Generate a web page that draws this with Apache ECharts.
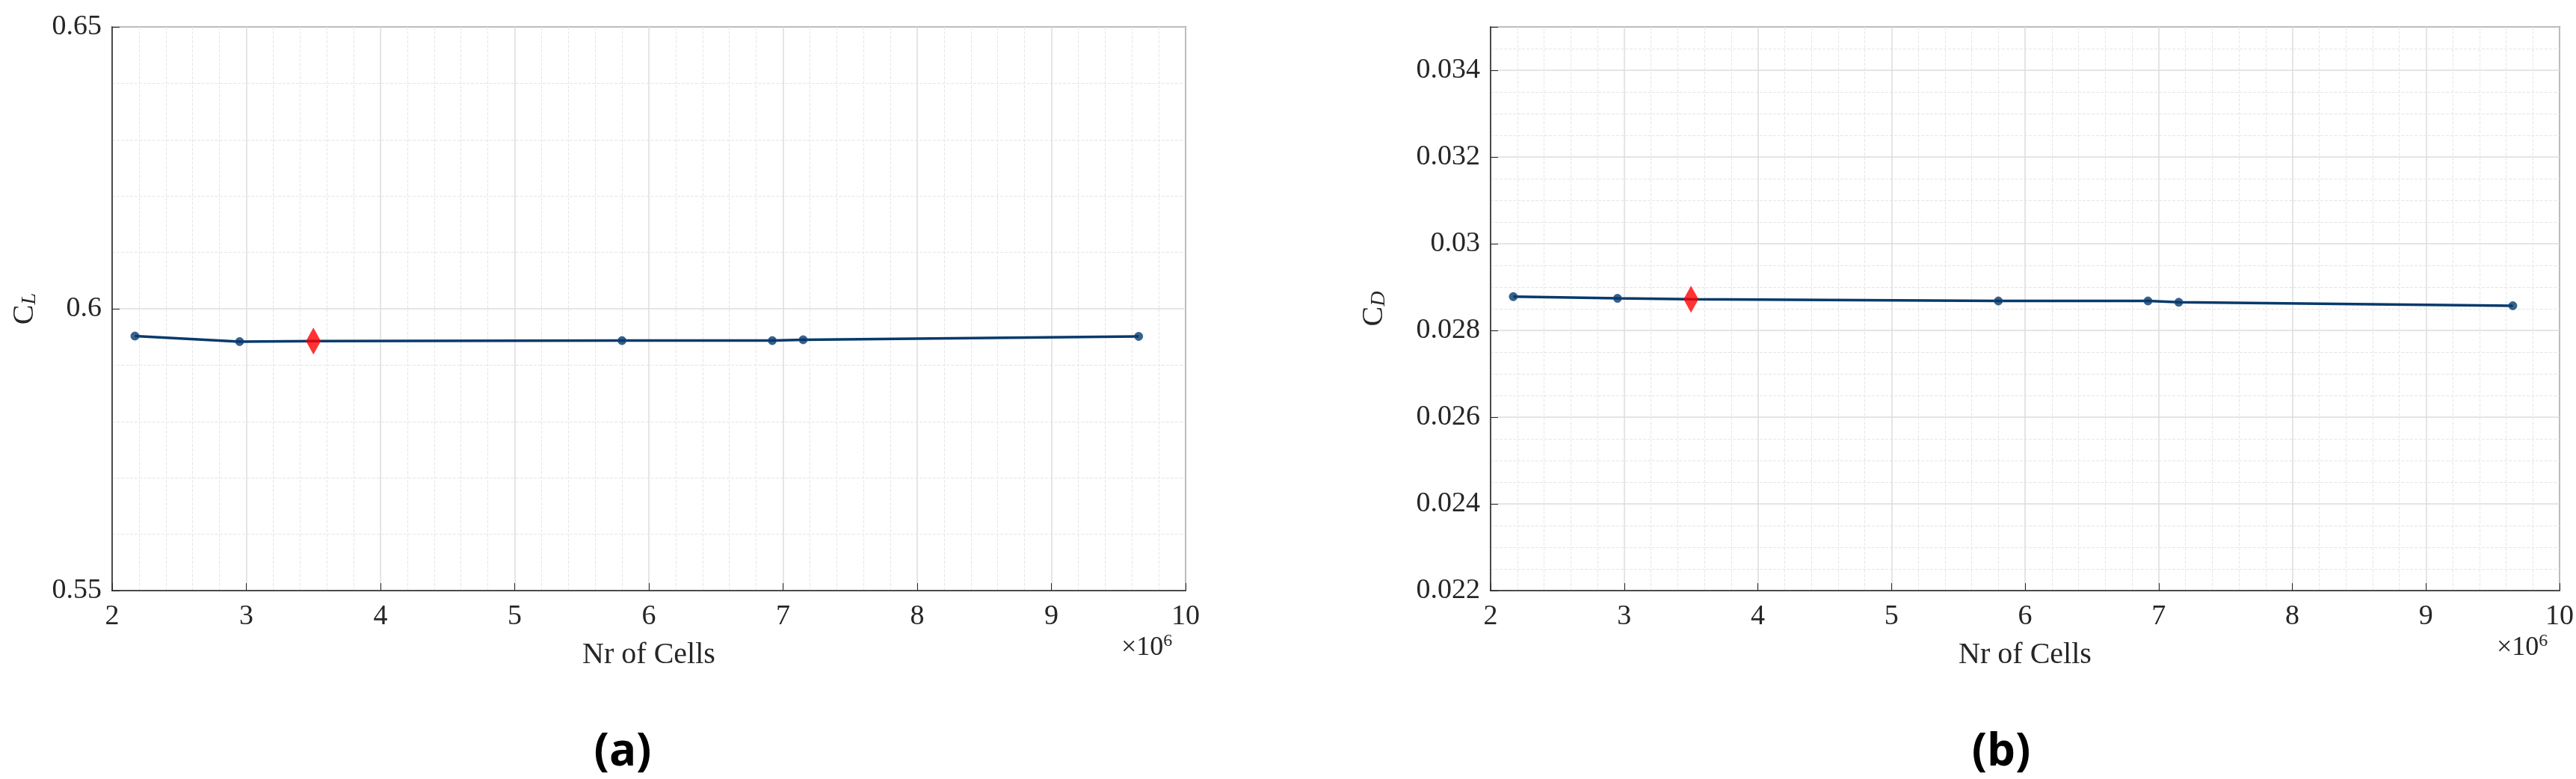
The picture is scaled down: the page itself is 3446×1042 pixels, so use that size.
<!DOCTYPE html>
<html><head><meta charset="utf-8">
<script src="https://cdn.jsdelivr.net/npm/echarts@6/dist/echarts.min.js"></script>
<style>html,body{margin:0;padding:0;background:#fff}#c{width:3446px;height:1042px}</style>
</head><body><div id="c"></div>
<script>
const cells = [2.17, 2.95, 5.80, 6.92, 7.15, 9.65];
const clValues = [0.59516, 0.59418, 0.59435, 0.59435, 0.59450, 0.59510];
const cdValues = [0.02878, 0.02874, 0.02868, 0.02868, 0.02865, 0.02857];
const selCells = [3.50];
const selCL = [0.59427];
const selCD = [0.02872];
const xTicks = [2,3,4,5,6,7,8,9,10];
const clTicks = [0.55, 0.6, 0.65];
const cdTicks = [0.022,0.024,0.026,0.028,0.03,0.032,0.034];

const serif = '"Liberation Serif", "DejaVu Serif", serif';
const lineColor = '#073a6b';
function mk(arr, x){ return arr.map((v,i)=>[x[i], v]); }
function merged(vals, sel){
  const pts = mk(vals, cells).concat(mk(sel, selCells));
  return pts.sort((a,b)=>a[0]-b[0]);
}
const grids = [{left:150, width:1436, top:36, height:754}, {left:1994, width:1434, top:36, height:754}];
function xAxis(gi){
  return {type:'value', gridIndex:gi, min:2, max:10, interval:1,
    axisLine:{show:true, lineStyle:{color:'#262626', width:1.5}},
    axisTick:{show:true, inside:true, length:10, lineStyle:{color:'#262626'}},
    axisLabel:{fontFamily:serif, fontSize:38, color:'#262626', margin:16, formatter:v=>xTicks.includes(v)?String(v):''},
    splitLine:{show:true, lineStyle:{color:'#dcdcdc', width:1.5}},
    minorTick:{show:true, splitNumber:5, length:0},
    minorSplitLine:{show:true, lineStyle:{color:'#e6e6e6', type:'dashed', width:1}},
    name:'Nr of Cells', nameLocation:'middle', nameGap:66,
    nameTextStyle:{fontFamily:serif, fontSize:40, color:'#262626'}};
}
function yAxis(gi, min, max, interval, split, ticks, dec, sub){
  return {type:'value', gridIndex:gi, min, max, interval,
    axisLine:{show:true, lineStyle:{color:'#262626', width:1.5}},
    axisTick:{show:true, inside:true, length:10, lineStyle:{color:'#262626'}},
    axisLabel:{fontFamily:serif, fontSize:38, color:'#262626', margin:14,
      formatter:v=>{const t=ticks.find(k=>Math.abs(k-v)<1e-9); return t===undefined?'':String(+t.toFixed(dec));}},
    splitLine:{show:true, lineStyle:{color:'#dcdcdc', width:1.5}},
    minorTick:{show:true, splitNumber:split, length:0},
    minorSplitLine:{show:true, lineStyle:{color:'#e6e6e6', type:'dashed', width:1}},
    name:'{c|C}{s|'+sub+'}', nameLocation:'middle', nameGap: gi===0?96:135, nameRotate:90,
    nameTextStyle:{rich:{c:{fontFamily:serif, fontSize:40, color:'#262626'}, s:{fontFamily:serif, fontStyle:'italic', fontSize:28, color:'#262626', verticalAlign:'bottom', padding:[14,0,0,0]}}}};
}
function series(gi, vals, sel){
  return [
    {type:'line', xAxisIndex:gi, yAxisIndex:gi, data:merged(vals, sel), symbol:'none', lineStyle:{color:lineColor, width:3.5}, z:2, animation:false},
    {type:'scatter', xAxisIndex:gi, yAxisIndex:gi, data:mk(vals, cells), symbol:'circle', symbolSize:11,
      itemStyle:{color:lineColor, borderColor:'#1a5490', borderWidth:1}, z:3, animation:false},
    {type:'scatter', xAxisIndex:gi, yAxisIndex:gi, data:mk(sel, selCells), symbol:'diamond', symbolSize:[20,36],
      itemStyle:{color:'#ff0000'}, z:4, animation:false}
  ];
}
const chart = echarts.init(document.getElementById('c'));
chart.setOption({
  backgroundColor:'#fff', animation:false,
  grid: grids.map(g=>Object.assign({show:true, borderColor:'#262626', borderWidth:1.5, backgroundColor:'transparent'}, g)),
  xAxis:[xAxis(0), xAxis(1)],
  yAxis:[yAxis(0, 0.55, 0.65, 0.05, 5, clTicks, 2, 'L'), yAxis(1, 0.022, 0.035, 0.002, 4, cdTicks, 3, 'D')],
  series: series(0, clValues, selCL).concat(series(1, cdValues, selCD)),
  graphic:[
    {type:'text', left:1500, top:846, style:{text:'{a|×10}{b|6}', rich:{a:{fontFamily:serif, fontSize:36, fill:'#262626'}, b:{fontFamily:serif, fontSize:24, fill:'#262626', verticalAlign:'top', padding:[0,0,18,0]}}}},
    {type:'text', left:3340, top:846, style:{text:'{a|×10}{b|6}', rich:{a:{fontFamily:serif, fontSize:36, fill:'#262626'}, b:{fontFamily:serif, fontSize:24, fill:'#262626', verticalAlign:'top', padding:[0,0,18,0]}}}},
    {type:'text', x:833, y:1007, style:{text:'(a)', fontFamily:'"Open Sans", sans-serif', fontWeight:'bold', fontSize:60, fill:'#000', align:'center', verticalAlign:'middle'}},
    {type:'text', x:2677, y:1007, style:{text:'(b)', fontFamily:'"Open Sans", sans-serif', fontWeight:'bold', fontSize:60, fill:'#000', align:'center', verticalAlign:'middle'}}
  ]
});
</script></body></html>
